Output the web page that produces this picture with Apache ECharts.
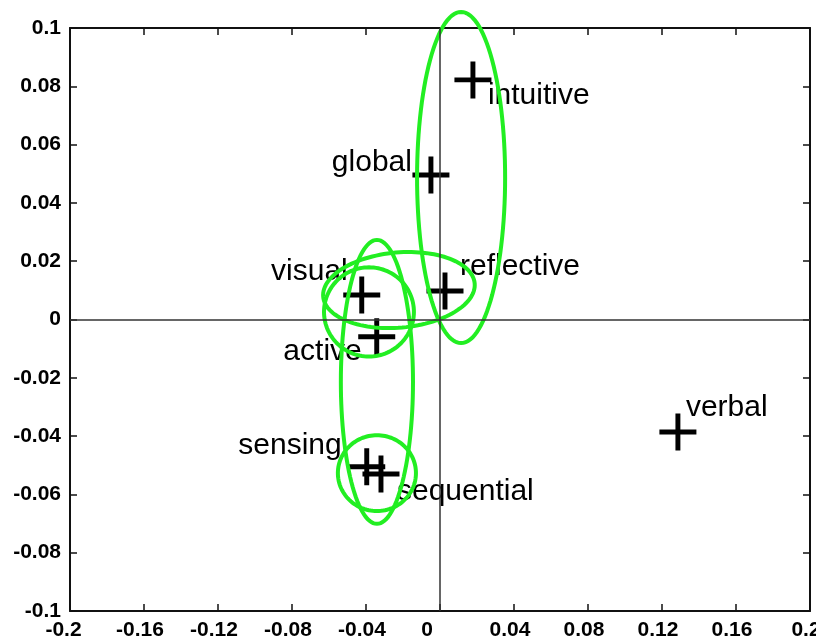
<!DOCTYPE html>
<html>
<head>
<meta charset="utf-8">
<script src="https://cdn.jsdelivr.net/npm/echarts@6/dist/echarts.min.js"></script>
<style>
  html, body { margin: 0; padding: 0; background: #ffffff; }
  #chart { width: 816px; height: 640px; }
</style>
</head>
<body>
<div id="chart"></div>
<script>
// ---- data ----
const categories = ['intuitive', 'global', 'reflective', 'visual', 'active', 'sensing', 'sequential', 'verbal'];
const xValues = [0.0178, -0.0049, 0.0027, -0.0423, -0.0342, -0.0396, -0.0319, 0.1286];
const yValues = [0.0822, 0.0496, 0.0098, 0.0084, -0.0059, -0.0505, -0.0530, -0.0386];

// ellipses (data units): centre x, centre y, semi-axis x, semi-axis y, rotation (deg)
const ellipseCx = [0.0114, -0.0222, -0.0384, -0.0341, -0.0341];
const ellipseCy = [0.0487, 0.0101, 0.0026, -0.0214, -0.0527];
const ellipseRx = [0.0238, 0.0411, 0.0243, 0.0195, 0.0211];
const ellipseRy = [0.0568, 0.0129, 0.0153, 0.0487, 0.0130];
const ellipseRot = [0, 5, 0, 0, 0];

const xTicks = [-0.2, -0.16, -0.12, -0.08, -0.04, 0, 0.04, 0.08, 0.12, 0.16, 0.2];
const yTicks = [-0.1, -0.08, -0.06, -0.04, -0.02, 0, 0.02, 0.04, 0.06, 0.08, 0.1];

// ---- label layout (pixels, relative to marker centre) ----
const labelLayout = [
  { align: 'left',  dx: 15,  dy: 16 },  // intuitive
  { align: 'right', dx: -19, dy: -12 }, // global
  { align: 'left',  dx: 15,  dy: -24 }, // reflective
  { align: 'right', dx: -14, dy: -23 }, // visual
  { align: 'right', dx: -15, dy: 15 },  // active
  { align: 'right', dx: -25, dy: -21 }, // sensing
  { align: 'left',  dx: 16,  dy: 18 },  // sequential
  { align: 'left',  dx: 8,   dy: -24 }  // verbal
];

const SYM = 37;
const GREEN = '#22ee22';
const FONT = "'Liberation Sans', Arial, Helvetica, sans-serif";

const pointData = categories.map((name, i) => ({
  name: name,
  value: [xValues[i], yValues[i]],
  label: {
    position: [SYM / 2 + labelLayout[i].dx, SYM / 2 + labelLayout[i].dy],
    align: labelLayout[i].align,
    verticalAlign: 'middle'
  }
}));

const ellipseData = ellipseCx.map((cx, i) => [cx, ellipseCy[i], ellipseRx[i], ellipseRy[i], ellipseRot[i]]);

function fmtTick(v) {
  return String(parseFloat(Number(v).toFixed(2)));
}

const chart = echarts.init(document.getElementById('chart'), null, { renderer: 'canvas' });

const tickFont = { fontFamily: FONT, fontWeight: 'bold', fontSize: 21, color: '#000' };

chart.setOption({
  animation: false,
  backgroundColor: '#ffffff',
  grid: { left: 70, right: 6, top: 28, bottom: 29, containLabel: false, outerBoundsMode: 'none' },
  xAxis: [
    {
      type: 'value', min: xTicks[0], max: xTicks[xTicks.length - 1], interval: 0.04,
      position: 'bottom',
      splitLine: { show: false },
      axisLine: { show: true, onZero: false, lineStyle: { color: '#111', width: 2 } },
      axisTick: { show: true, inside: true, length: 7, lineStyle: { color: '#111', width: 1.5 } },
      axisLabel: {
        show: true, margin: 9, hideOverlap: false,
        formatter: function (v) {
          const s = fmtTick(v);
          if (s === '0') return '{z|' + s + '}';
          if (s === '-0.2') return '{e|' + s + '}';
          return '{n|' + s + '}';
        },
        rich: {
          n: Object.assign({ padding: [0, 8, 0, 0] }, tickFont),
          z: Object.assign({ padding: [0, 26, 0, 0] }, tickFont),
          e: Object.assign({ padding: [0, 13, 0, 0] }, tickFont)
        }
      }
    },
    {
      type: 'value', min: xTicks[0], max: xTicks[xTicks.length - 1], interval: 0.04,
      position: 'top',
      splitLine: { show: false },
      axisLine: { show: true, onZero: false, lineStyle: { color: '#111', width: 2 } },
      axisTick: { show: true, inside: true, length: 7, lineStyle: { color: '#111', width: 1.5 } },
      axisLabel: { show: false }
    }
  ],
  yAxis: [
    {
      type: 'value', min: yTicks[0], max: yTicks[yTicks.length - 1], interval: 0.02,
      position: 'left',
      splitLine: { show: false },
      axisLine: { show: true, onZero: false, lineStyle: { color: '#111', width: 2 } },
      axisTick: { show: true, inside: true, length: 7, lineStyle: { color: '#111', width: 1.5 } },
      axisLabel: Object.assign({ show: true, margin: 9, formatter: fmtTick }, tickFont)
    },
    {
      type: 'value', min: yTicks[0], max: yTicks[yTicks.length - 1], interval: 0.02,
      position: 'right',
      splitLine: { show: false },
      axisLine: { show: true, onZero: false, lineStyle: { color: '#111', width: 2 } },
      axisTick: { show: true, inside: true, length: 7, lineStyle: { color: '#111', width: 1.5 } },
      axisLabel: { show: false }
    }
  ],
  series: [
    {
      type: 'scatter',
      xAxisIndex: 0, yAxisIndex: 0,
      z: 3,
      symbol: 'path://M-2.4,-18 L2.4,-18 L2.4,-2.4 L18,-2.4 L18,2.4 L2.4,2.4 L2.4,18 L-2.4,18 L-2.4,2.4 L-18,2.4 L-18,-2.4 L-2.4,-2.4 Z',
      symbolSize: SYM,
      itemStyle: { color: '#000', opacity: 1 },
      label: {
        show: true,
        formatter: '{b}',
        fontFamily: FONT,
        fontSize: 30,
        color: '#000'
      },
      emphasis: { disabled: true },
      data: pointData,
      markLine: {
        silent: true,
        symbol: 'none',
        label: { show: false },
        lineStyle: { color: '#333', width: 1.5, type: 'solid' },
        emphasis: { disabled: true },
        data: [{ xAxis: 0 }, { yAxis: 0 }]
      }
    },
    {
      type: 'custom',
      xAxisIndex: 0, yAxisIndex: 0,
      z: 4,
      silent: true,
      clip: false,
      renderItem: function (params, api) {
        const c = api.coord([api.value(0), api.value(1)]);
        const s = api.size([api.value(2), api.value(3)]);
        const th = api.value(4) * Math.PI / 180;
        const pts = [];
        const N = 120;
        for (let k = 0; k < N; k++) {
          const t = 2 * Math.PI * k / N;
          const ex = s[0] * Math.cos(t);
          const ey = s[1] * Math.sin(t);
          pts.push([c[0] + ex * Math.cos(th) + ey * Math.sin(th),
                    c[1] - ex * Math.sin(th) + ey * Math.cos(th)]);
        }
        return {
          type: 'polygon',
          shape: { points: pts },
          style: { fill: 'none', stroke: GREEN, lineWidth: 4 }
        };
      },
      data: ellipseData
    }
  ]
});
</script>
</body>
</html>
